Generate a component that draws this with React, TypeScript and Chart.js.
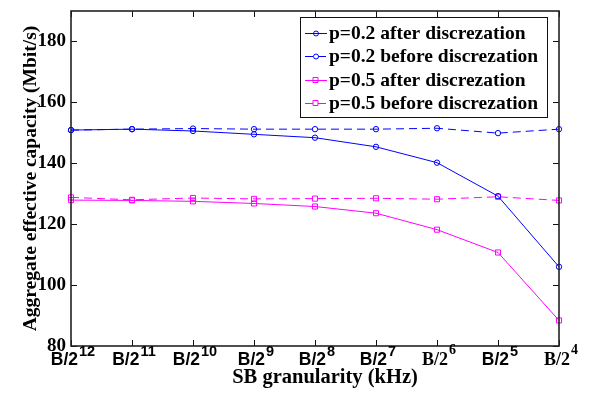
import React, { useEffect, useRef } from 'react';
import { Chart, registerables } from 'chart.js';

Chart.register(...registerables);

// ---- data ----
const exponents = ['12', '11', '10', '9', '8', '7', '6', '5', '4'];
const categories = exponents.map((e) => `B/2^${e}`);
const p02After = [150.9, 151.2, 150.6, 149.5, 148.4, 145.4, 140.2, 129.2, 106.0];
const p02Before = [150.9, 151.2, 151.4, 151.2, 151.2, 151.2, 151.5, 149.9, 151.2];
const p05After = [127.9, 127.8, 127.5, 126.8, 125.8, 123.6, 118.2, 110.7, 88.4];
const p05Before = [128.8, 128.0, 128.6, 128.3, 128.4, 128.5, 128.2, 129.0, 127.8];
const seriesLabels = [
  'p=0.2 after discrezation',
  'p=0.2 before discrezation',
  'p=0.5 after discrezation',
  'p=0.5 before discrezation',
];
const yTickValues = [80, 100, 120, 140, 160, 180];
const yMin = 80;
const yMax = 190;
const xTitle = 'SB granularity (kHz)';
const yTitle = 'Aggregate effective capacity (Mbit/s)';

// tick labels drawn in a serif face in the original figure
const serifTickIdx = [6, 8];

const BLUE = '#0000ff';
const MAGENTA = '#ff00ff';
const SERIF = '"Liberation Serif", "Times New Roman", serif';
const SANS = '"Liberation Sans", Arial, sans-serif';

const axesPlugin = {
  id: 'matlabAxes',
  afterDatasetsDraw(chart: any) {
    const { ctx, chartArea } = chart;
    const { left, right, top, bottom } = chartArea;
    const xs = chart.scales.x;
    const ys = chart.scales.y;
    ctx.save();
    // ticks (inward)
    ctx.strokeStyle = '#111';
    ctx.lineWidth = 1;
    const tl = 6;
    xs.ticks.forEach((_t: any, i: number) => {
      const x = Math.round(xs.getPixelForTick(i)) + 0.5;
      ctx.beginPath();
      ctx.moveTo(x, bottom);
      ctx.lineTo(x, bottom - tl);
      ctx.moveTo(x, top);
      ctx.lineTo(x, top + tl);
      ctx.stroke();
    });
    ys.ticks.forEach((t: any) => {
      const y = Math.round(ys.getPixelForValue(t.value)) + 0.5;
      ctx.beginPath();
      ctx.moveTo(left, y);
      ctx.lineTo(left + tl, y);
      ctx.moveTo(right, y);
      ctx.lineTo(right - tl, y);
      ctx.stroke();
    });
    // box
    ctx.strokeStyle = '#222';
    ctx.lineWidth = 1.6;
    ctx.strokeRect(left, top, right - left, bottom - top);

    // x tick labels with superscripts
    ctx.fillStyle = '#000';
    ctx.textBaseline = 'alphabetic';
    ctx.textAlign = 'left';
    const baseY = 365;
    xs.ticks.forEach((t: any, i: number) => {
      const label = String(xs.getLabelForValue(t.value));
      const [base, exp] = label.split('^');
      const serif = serifTickIdx.includes(i);
      const baseFont = serif ? `bold 18px ${SERIF}` : `bold 17.5px ${SANS}`;
      const expFont = serif ? `bold 14px ${SERIF}` : `bold 14.5px ${SANS}`;
      ctx.font = baseFont;
      const wb = ctx.measureText(base).width;
      ctx.font = expFont;
      const we = ctx.measureText(exp).width;
      const x0 = xs.getPixelForTick(i) - (wb + we + 1) / 2 + 2;
      ctx.font = baseFont;
      ctx.fillText(base, x0, baseY);
      ctx.font = expFont;
      ctx.fillText(exp, x0 + wb + 1, baseY - (serif ? 11 : 9));
    });

    // x title
    ctx.font = `bold 20.5px ${SERIF}`;
    ctx.textAlign = 'center';
    ctx.fillText(xTitle, 325, 383);

    // legend
    const lx = 300, ly = 17, lw = 247, lh = 100;
    ctx.fillStyle = '#fff';
    ctx.fillRect(lx, ly, lw, lh);
    ctx.strokeStyle = '#111';
    ctx.lineWidth = 1;
    ctx.strokeRect(lx + 0.5, ly + 0.5, lw, lh);
    const rows = [33, 56, 80, 103];
    chart.data.datasets.forEach((ds: any, i: number) => {
      const y = rows[i];
      ctx.strokeStyle = ds.borderColor;
      ctx.lineWidth = 1;
      ctx.setLineDash(ds.borderDash || []);
      ctx.beginPath();
      ctx.moveTo(305, y + 0.5);
      ctx.lineTo(327, y + 0.5);
      ctx.stroke();
      ctx.setLineDash([]);
      ctx.beginPath();
      if (ds.pointStyle === 'rect') {
        ctx.rect(313, y - 2.5, 5, 5);
      } else {
        ctx.arc(316, y + 0.5, 2.5, 0, Math.PI * 2);
      }
      ctx.stroke();
      ctx.fillStyle = '#000';
      ctx.font = `bold 19.5px ${SERIF}`;
      ctx.textAlign = 'left';
      ctx.textBaseline = 'middle';
      ctx.fillText(ds.label, 329, y + 1);
    });
    ctx.restore();
  },
};

export default function App() {
  const ref = useRef<HTMLCanvasElement | null>(null);
  useEffect(() => {
    if (!ref.current) return;
    const mk = (label: string, data: number[], color: string, style: string, dashed: boolean) => ({
      label,
      data,
      borderColor: color,
      backgroundColor: 'rgba(0,0,0,0)',
      borderWidth: 1,
      borderDash: dashed ? [8, 5] : [],
      pointStyle: style,
      pointRadius: style === 'rect' ? 3.6 : 2.7,
      pointBorderWidth: 1,
      pointBorderColor: color,
      pointBackgroundColor: 'rgba(0,0,0,0)',
      tension: 0,
      clip: false as any,
    });
    const chart = new Chart(ref.current, {
      type: 'line',
      data: {
        labels: categories,
        datasets: [
          mk(seriesLabels[0], p02After, BLUE, 'circle', false),
          mk(seriesLabels[1], p02Before, BLUE, 'circle', true),
          mk(seriesLabels[2], p05After, MAGENTA, 'rect', false),
          mk(seriesLabels[3], p05Before, MAGENTA, 'rect', true),
        ],
      },
      options: {
        responsive: false,
        animation: false,
        devicePixelRatio: 1,
        layout: { padding: { left: 0, right: 34, top: 11, bottom: 0 } },
        plugins: { legend: { display: false }, tooltip: { enabled: false } },
        scales: {
          x: {
            type: 'category',
            offset: false,
            grid: { display: false, drawTicks: false },
            border: { display: false },
            ticks: { display: false },
            afterFit: (s: any) => {
              s.height = 47;
              s.paddingLeft = 0;
              s.paddingRight = 0;
            },
          },
          y: {
            min: yMin,
            max: yMax,
            grid: { display: false, drawTicks: false },
            border: { display: false },
            afterBuildTicks: (s: any) => {
              s.ticks = yTickValues.map((v) => ({ value: v }));
            },
            ticks: {
              color: '#000',
              padding: 5,
              font: { family: SERIF, size: 19, weight: 'bold' },
            },
            title: {
              display: true,
              text: yTitle,
              color: '#000',
              font: { family: SERIF, size: 19.5, weight: 'bold' },
              padding: { top: 19, bottom: 0 },
            },
            afterFit: (s: any) => {
              s.width = 71;
              s.paddingTop = 0;
              s.paddingBottom = 0;
            },
          },
        },
      },
      plugins: [axesPlugin],
    } as any);
    return () => chart.destroy();
  }, []);
  return (
    <div style={{ position: 'absolute', left: 0, top: 0, width: 593, height: 393, background: '#fff' }}>
      <canvas ref={ref} width={593} height={393} style={{ display: 'block' }} />
    </div>
  );
}
